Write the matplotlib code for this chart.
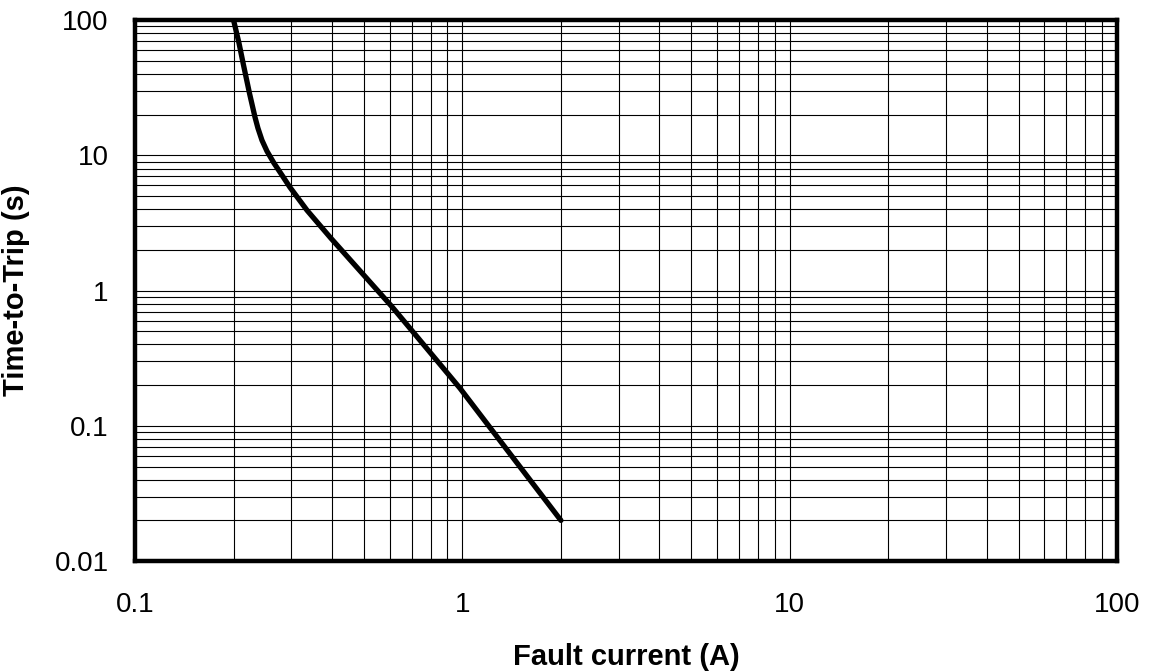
import numpy as np
import matplotlib.pyplot as plt
from matplotlib.ticker import LogLocator, FixedLocator, FixedFormatter, NullFormatter

plt.rcParams['font.family'] = ['Liberation Sans', 'DejaVu Sans']

# trip curve
fault_current = [0.200, 0.2078, 0.2145, 0.2237, 0.2325, 0.2374, 0.2442, 0.2530,
                 0.2658, 0.2812, 0.2972, 0.3352, 0.3967, 0.608, 0.983, 2.0]
trip_time = [100, 67.6, 46.5, 28.8, 19.2, 15.9, 12.95, 10.74,
             8.76, 7.14, 5.82, 3.93, 2.44, 0.766, 0.190, 0.020]

x_ticks = [0.1, 1, 10, 100]
x_tick_labels = ["0.1", "1", "10", "100"]
y_ticks = [0.01, 0.1, 1, 10, 100]
y_tick_labels = ["0.01", "0.1", "1", "10", "100"]

fig = plt.figure(figsize=(11.6, 6.72), dpi=100)
ax = fig.add_axes([0.1164, 0.165, 0.8466, 0.805])

ax.plot(fault_current, trip_time, color="black", lw=3.8, solid_capstyle="round",
        solid_joinstyle="round", zorder=3)

ax.set_xscale("log")
ax.set_yscale("log")
ax.set_xlim(0.1, 100)
ax.set_ylim(0.01, 100)

ax.xaxis.set_major_locator(FixedLocator(x_ticks))
ax.xaxis.set_major_formatter(FixedFormatter(x_tick_labels))
ax.yaxis.set_major_locator(FixedLocator(y_ticks))
ax.yaxis.set_major_formatter(FixedFormatter(y_tick_labels))
ax.xaxis.set_minor_locator(LogLocator(base=10, subs=np.arange(2, 10), numticks=20))
ax.yaxis.set_minor_locator(LogLocator(base=10, subs=np.arange(2, 10), numticks=20))
ax.xaxis.set_minor_formatter(NullFormatter())
ax.yaxis.set_minor_formatter(NullFormatter())

ax.grid(True, which="both", color="black", lw=0.8)
ax.tick_params(which="both", length=0)
ax.tick_params(axis="x", labelsize=20, pad=22)
ax.tick_params(axis="y", labelsize=20, pad=19)

for s in ax.spines.values():
    s.set_linewidth(3.2)
    s.set_zorder(4)

ax.set_xlabel("Fault current (A)", fontsize=21, fontweight="bold", labelpad=18)
ax.set_ylabel("Time-to-Trip (s)", fontsize=21, fontweight="bold", labelpad=18)

fig.savefig("out.png", dpi=100)
